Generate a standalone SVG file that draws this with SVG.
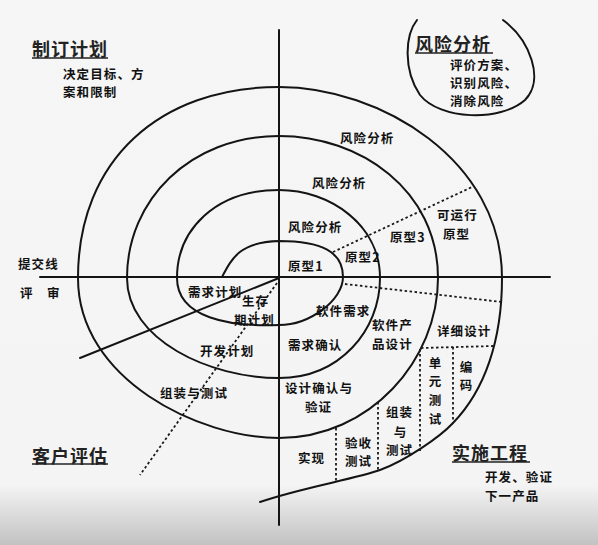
<svg xmlns="http://www.w3.org/2000/svg" width="598" height="545" viewBox="0 0 598 545">
<defs>
<linearGradient id="bg" x1="0" y1="0" x2="0" y2="1">
<stop offset="0" stop-color="#f6f6f6"/>
<stop offset="0.89" stop-color="#f4f4f4"/>
<stop offset="1" stop-color="#c2c2c2"/>
</linearGradient>
<style>
.ln{fill:none;stroke:#141414;stroke-width:2;stroke-linecap:round}
.dt{fill:none;stroke:#1a1a1a;stroke-width:1.8;stroke-dasharray:2.5 2.5}
.t{font-family:"Noto Sans CJK SC","Noto Sans",sans-serif;font-weight:bold;font-size:12.5px;letter-spacing:1.1px;fill:#111;dominant-baseline:central}
.h{font-family:"Noto Sans CJK SC","Noto Sans",sans-serif;font-weight:bold;font-size:18px;letter-spacing:1px;fill:#222;dominant-baseline:central}
.u{stroke:#222;stroke-width:1.6}
.v{text-anchor:middle;letter-spacing:0}
</style>
</defs>
<rect x="0" y="0" width="598" height="545" fill="url(#bg)"/>
<g id="connectors">
<path class="ln" d="M279,30 L279,525"/>
<path class="ln" d="M40,277 L550,277"/>
<path class="ln" d="M279,278 L80,358"/>
<path id="spiral" class="ln" d="M222,277 C232,258 240,242 279,241 C322,241 343,252 343,277 C343,300 310,325 279,325 C230,327 177,318 177,278 C177,230 215,190 279,190 C330,190 380,225 380,278 C380,330 340,378 279,378 C210,378 127,340 127,278 C127,200 190,136 279,136 C360,136 438,190 438,278 C438,360 370,438 279,438 C200,438 78,380 78,278 C78,160 160,87 279,87 C380,87 502,160 502,278 C502,340 485,390 453,423 C440,437 405,461 380,470 C355,479 300,488 260,502"/>
<path class="ln" d="M417,20 C405,35 403,70 420,95 C440,120 500,122 525,100 C545,80 530,40 503,20"/>
<path class="dt" d="M333,252 L472,187"/>
<path class="dt" d="M345,284 L502,302"/>
<path class="dt" d="M421,348 L494,346"/>
<path class="dt" d="M420,349 L420,451"/>
<path class="dt" d="M453,347 L453,423"/>
<path class="dt" d="M378,402 L378,471"/>
<path class="dt" d="M336,428 L336,483"/>
<path class="dt" d="M277,283 L140,475"/>
</g>
<g id="plan">
<text class="h" x="32" y="48">制订计划</text>
<line class="u" x1="32" y1="58" x2="108" y2="58"/>
<text class="t" x="63" y="73">决定目标、方</text>
<text class="t" x="63" y="91">案和限制</text>
</g>
<g id="risk">
<text class="h" x="415" y="43">风险分析</text>
<line class="u" x1="415" y1="53" x2="493" y2="53"/>
<text class="t" x="450" y="64">评价方案、</text>
<text class="t" x="450" y="82">识别风险、</text>
<text class="t" x="450" y="100">消除风险</text>
</g>
<g id="engineering">
<text class="h" x="452" y="452">实施工程</text>
<line class="u" x1="452" y1="462" x2="530" y2="462"/>
<text class="t" x="485" y="476">开发、验证</text>
<text class="t" x="485" y="495">下一产品</text>
</g>
<g id="evaluation">
<text class="h" x="32" y="455">客户评估</text>
<line class="u" x1="32" y1="464" x2="108" y2="464"/>
</g>
<g id="review">
<text class="t" x="18" y="263">提交线</text>
<text class="t" x="20" y="292">评</text>
<text class="t" x="47" y="292">审</text>
</g>
<g id="risk-labels">
<text class="t" x="340" y="137">风险分析</text>
<text class="t" x="312" y="182">风险分析</text>
<text class="t" x="288" y="226">风险分析</text>
</g>
<g id="prototypes">
<text class="t" x="288" y="265">原型1</text>
<text class="t" x="345" y="256">原型2</text>
<text class="t" x="390" y="236">原型3</text>
<text class="t" x="437" y="214">可运行</text>
<text class="t" x="443" y="233">原型</text>
</g>
<g id="plans">
<text class="t" x="188" y="291">需求计划</text>
<text class="t" x="242" y="300">生存</text>
<text class="t" x="234" y="319">期计划</text>
<text class="t" x="200" y="350">开发计划</text>
<text class="t" x="160" y="392">组装与测试</text>
</g>
<g id="stages">
<text class="t" x="316" y="310">软件需求</text>
<text class="t" x="288" y="344">需求确认</text>
<text class="t" x="372" y="324">软件产</text>
<text class="t" x="372" y="343">品设计</text>
<text class="t" x="437" y="330">详细设计</text>
<text class="t" x="285" y="387">设计确认与</text>
<text class="t" x="305" y="406">验证</text>
<text class="t v" x="435" y="362">单</text>
<text class="t v" x="435" y="380">元</text>
<text class="t v" x="435" y="399">测</text>
<text class="t v" x="435" y="418">试</text>
<text class="t v" x="466" y="366">编</text>
<text class="t v" x="466" y="384">码</text>
<text class="t" x="386" y="411">组装</text>
<text class="t v" x="400" y="431">与</text>
<text class="t" x="386" y="449">测试</text>
<text class="t" x="345" y="442">验收</text>
<text class="t" x="345" y="460">测试</text>
<text class="t" x="298" y="457">实现</text>
</g>
</svg>
